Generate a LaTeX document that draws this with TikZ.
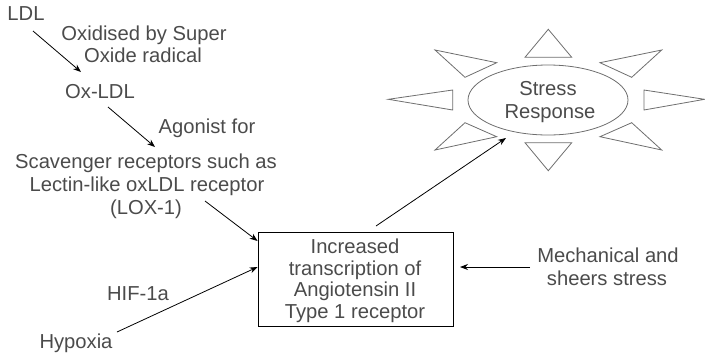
\documentclass[tikz,border=0pt]{standalone}
\usepackage{fontspec}
\setmainfont{Liberation Sans}
\usetikzlibrary{arrows.meta,shapes.geometric}
\definecolor{txt}{RGB}{75,75,75}
\definecolor{ray}{RGB}{110,110,110}
\begin{document}
\begin{tikzpicture}[x=1pt,y=-1pt,
  lbl/.style={font=\fontsize{20.2}{23}\selectfont, text=txt, inner sep=0pt, align=center, anchor=base},
  arr/.style={draw=black, line width=0.8pt, -{Stealth[length=8pt,width=6pt]}},
  raytri/.style={draw=ray, line width=0.8pt}]
\useasboundingbox (0,0) rectangle (705,357);
% texts
\node[lbl] (ldl) at (26,20) {LDL};
\node[lbl] (oxid1) at (144,40) {Oxidised by Super};
\node[lbl] (oxid2) at (143,62) {Oxide radical};
\node[lbl] (oxldl) at (100,98) {Ox-LDL};
\node[lbl] (agon) at (207,133) {Agonist for};
\node[lbl] (scav1) at (146,168) {Scavenger receptors such as};
\node[lbl] (scav2) at (147,191) {Lectin-like oxLDL receptor};
\node[lbl] (scav3) at (146,214) {(LOX-1)};
\node[lbl] (hif) at (138,300) {HIF-1a};
\node[lbl] (hyp) at (76,348) {Hypoxia};
\node[lbl] (mech1) at (608,262) {Mechanical and};
\node[lbl] (mech2) at (607,285) {sheers stress};
% box
\node[draw=black, line width=0.8pt, minimum width=195pt, minimum height=94pt, inner sep=0pt] (box) at (355.5,279) {};
\node[lbl] (b1) at (355,253) {Increased};
\node[lbl] (b2) at (355,275) {transcription of};
\node[lbl] (b3) at (355,296.5) {Angiotensin II};
\node[lbl] (b4) at (355,318) {Type 1 receptor};
% stress response
\node[draw=ray, line width=0.8pt, ellipse, minimum width=160pt, minimum height=70pt, inner sep=0pt] (sr) at (548,100) {};
\node[lbl] (sr1) at (548,95) {Stress};
\node[lbl] (sr2) at (550,118) {Response};
% rays
\draw[raytri] (548.3,29.3) -- (525,57.3) -- (571.7,57.3) -- cycle;
\draw[raytri] (525,142.7) -- (571.7,142.7) -- (548.3,170.7) -- cycle;
\draw[raytri] (388.3,99.3) -- (452.7,90) -- (452.7,110) -- cycle;
\draw[raytri] (644,90) -- (704.6,99.3) -- (644,110) -- cycle;
\draw[raytri] (435,50) -- (496.7,62.7) -- (465,77.3) -- cycle;
\draw[raytri] (661.7,50) -- (600,62.7) -- (631.7,77.3) -- cycle;
\draw[raytri] (465,122.7) -- (496.7,136.7) -- (435,150) -- cycle;
\draw[raytri] (631.7,122.7) -- (600,136.7) -- (661.7,150) -- cycle;
% connector ends
\coordinate (c1s) at (33,31);
\coordinate (c1e) at (81,72);
\coordinate (c2s) at (108,107);
\coordinate (c2e) at (155,147);
\coordinate (c3s) at (205,201);
\coordinate (c3e) at (box.west |- 0,241);
\coordinate (c4s) at (117,332);
\coordinate (c4e) at (box.west |- 0,267);
\coordinate (c5s) at (376,226);
\coordinate (c5e) at (506,138);
\coordinate (c6s) at (530,267);
\coordinate (c6e) at (460,267);
\draw[arr] (c1s) -- (c1e);
\draw[arr] (c2s) -- (c2e);
\draw[arr] (c3s) -- (c3e);
\draw[arr] (c4s) -- (c4e);
\draw[arr] (c5s) -- (c5e);
\draw[arr] (c6s) -- (c6e);
\end{tikzpicture}
\end{document}
